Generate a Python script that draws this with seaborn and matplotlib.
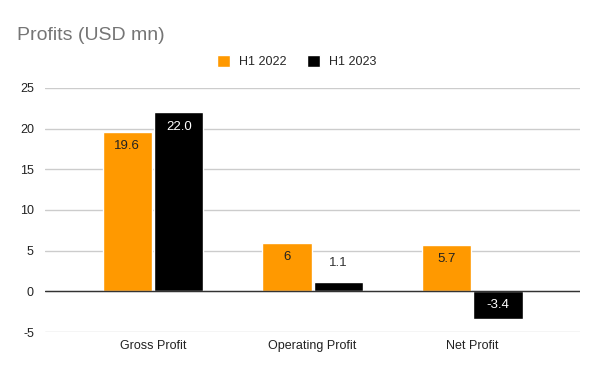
import pandas as pd
import matplotlib.pyplot as plt
import seaborn as sns

# ------------------------------
# Data
# ------------------------------
categories = ["Gross Profit", "Operating Profit", "Net Profit"]
series = ["H1 2022", "H1 2023"]
h1_2022 = [19.6, 6.0, 5.7]
h1_2023 = [22.0, 1.1, -3.4]
labels_2022 = ["19.6", "6", "5.7"]
labels_2023 = ["22.0", "1.1", "-3.4"]

df = pd.DataFrame({
    "metric": categories * 2,
    "period": [series[0]] * 3 + [series[1]] * 3,
    "value": h1_2022 + h1_2023,
})

# ------------------------------
# Chart
# ------------------------------
sns.set_theme(style="white")
plt.rcParams['font.family'] = ['Liberation Sans', 'DejaVu Sans']
plt.rcParams['axes.unicode_minus'] = False

fig = plt.figure(figsize=(6, 3.71), dpi=100)
ax = fig.add_axes([0.075, 0.105, 0.892, 0.658])

sns.barplot(data=df, x="metric", y="value", hue="period", order=categories,
            hue_order=series, palette=["#ff9900", "#000000"], saturation=1,
            width=0.645, gap=0.04, ax=ax, legend=True)

ax.set_ylim(-5, 25)
ax.set_xlim(-0.677, 2.677)
ax.set_yticks(range(-5, 30, 5))
ax.grid(axis="y", color="#cccccc", linewidth=1)
ax.set_axisbelow(True)
ax.axhline(0, color="#333333", linewidth=1, zorder=1.5)
for s in ax.spines.values():
    s.set_visible(False)
ax.tick_params(axis="both", length=0, labelsize=9, colors="#222222")
ax.tick_params(axis="y", pad=8)
ax.tick_params(axis="x", pad=6)
ax.set_xlabel("")
ax.set_ylabel("")

# data labels
label_sets = [labels_2022, labels_2023]
for container, labels in zip(ax.containers, label_sets):
    for bar, txt in zip(container, labels):
        h = bar.get_height()
        x = bar.get_x() + bar.get_width() / 2
        dark = bar.get_facecolor()[0] < 0.5
        if abs(h) < 2:
            ax.annotate(txt, (x, h), xytext=(0, 10), textcoords="offset points",
                        ha="center", va="bottom", fontsize=9.5, color="#333333")
        elif h >= 0:
            ax.annotate(txt, (x, h), xytext=(0, -6), textcoords="offset points",
                        ha="center", va="top", fontsize=9.5,
                        color="white" if dark else "#222222")
        else:
            ax.annotate(txt, (x, h), xytext=(0, 6), textcoords="offset points",
                        ha="center", va="bottom", fontsize=9.5,
                        color="white" if dark else "#222222")

ax.legend(loc="lower center", bbox_to_anchor=(0.47, 1.06), ncol=2, frameon=False,
          fontsize=9, handlelength=1.1, handleheight=1.1, handletextpad=0.7,
          columnspacing=1.6, borderaxespad=0)

fig.text(0.028, 0.905, "Profits (USD mn)", fontsize=14, color="#757575", ha="left", va="center")

plt.savefig("out.png", dpi=100)
plt.close()
